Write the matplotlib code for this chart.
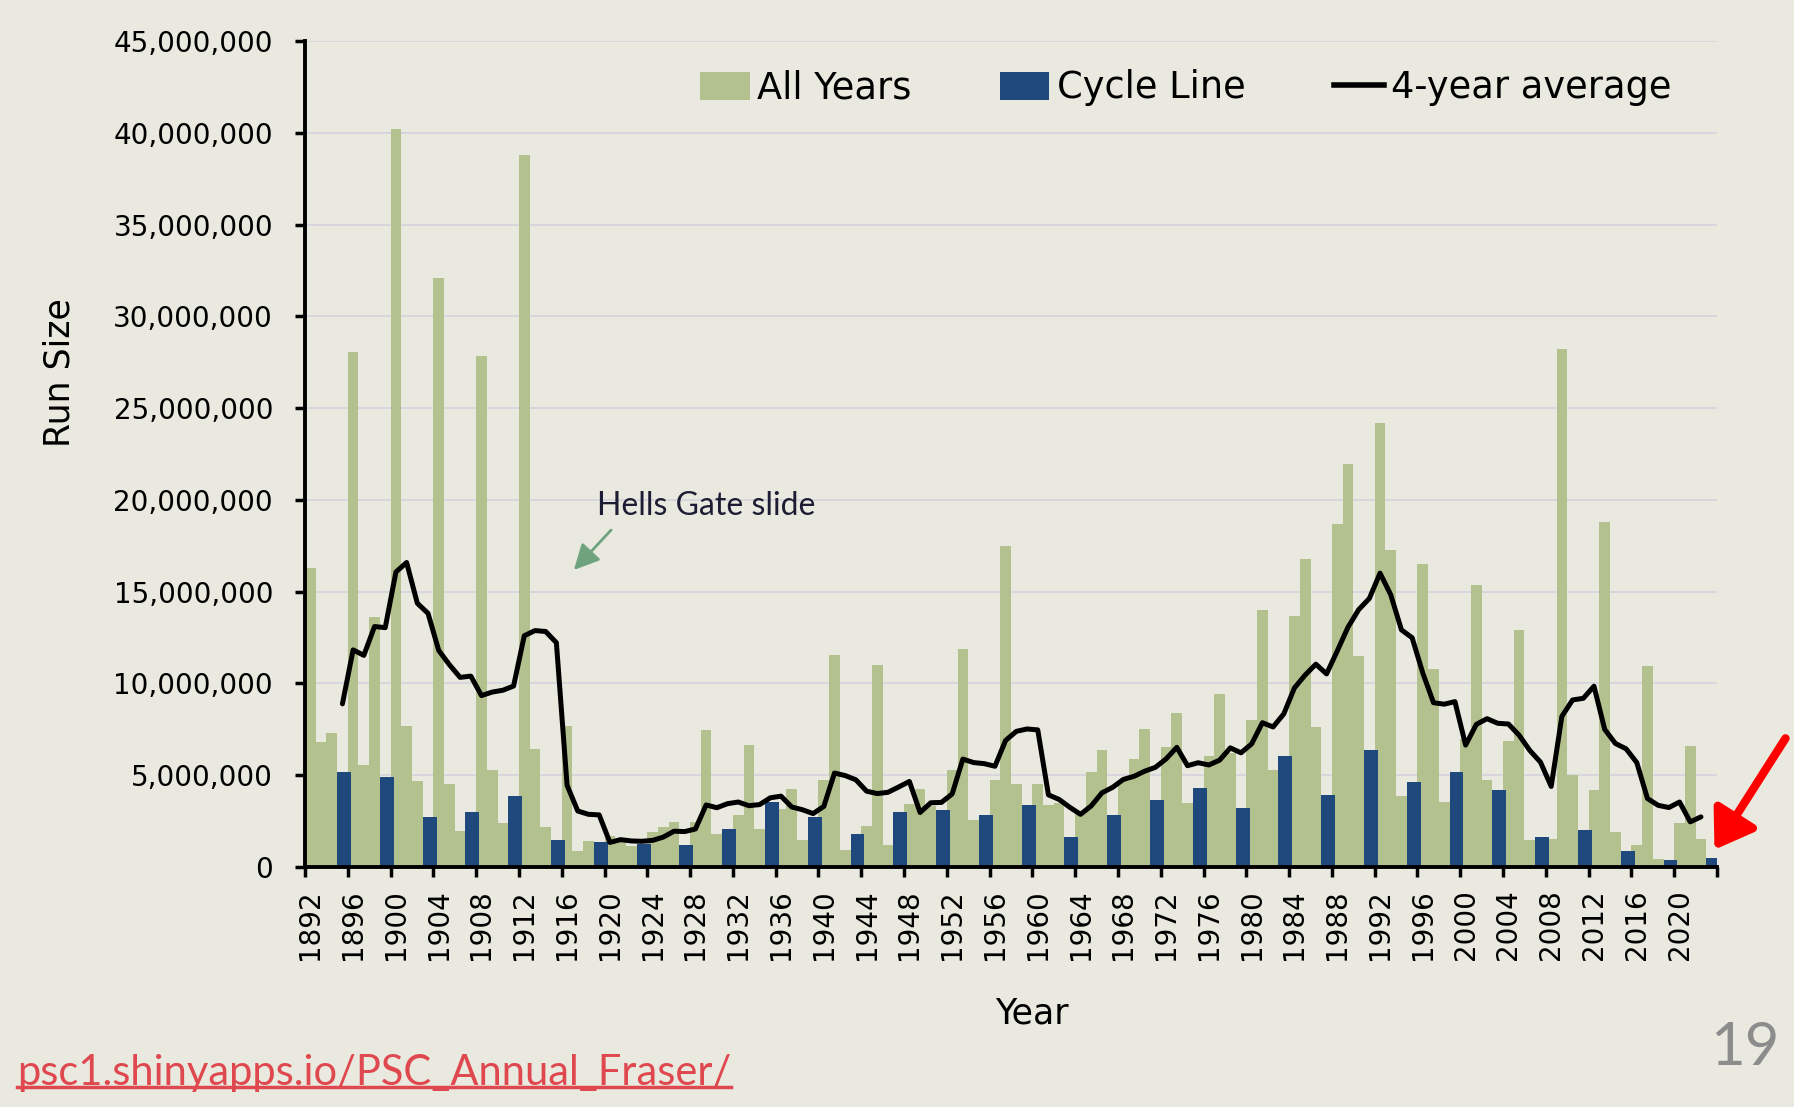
import numpy as np
import matplotlib
matplotlib.use("Agg")
import matplotlib.pyplot as plt
from matplotlib.patches import Patch
from matplotlib.lines import Line2D
from matplotlib.ticker import FuncFormatter

# ── Data (millions of fish) ───────────────────────────────────────────────
years = list(range(1892, 2024))
all_years_m = [
    16.3, 6.8, 7.3, 5.16, 28.07, 5.57, 13.6, 4.9, 40.2, 7.66,      # 1892-1901
    4.7, 2.72, 32.1, 4.54, 1.96, 2.99, 27.85, 5.3, 2.39, 3.89,     # 1902-1911
    38.8, 6.44, 2.17, 1.47, 7.7, 0.86, 1.43, 1.36, 1.7, 1.45,      # 1912-1921
    1.15, 1.28, 1.9, 2.18, 2.45, 1.18, 2.45, 7.45, 1.82, 2.09,     # 1922-1931
    2.81, 6.62, 2.09, 3.55, 3.18, 4.27, 1.47, 2.73, 4.73, 11.55,   # 1932-1941
    0.91, 1.82, 2.25, 11.02, 1.18, 3.0, 3.44, 4.24, 3.3, 3.09,     # 1942-1951
    5.27, 11.86, 2.55, 2.82, 4.73, 17.5, 4.5, 3.36, 4.5, 3.36,     # 1952-1961
    3.5, 1.62, 3.0, 5.18, 6.36, 2.82, 4.7, 5.86, 7.5, 3.64,        # 1962-1971
    6.55, 8.4, 3.5, 4.28, 6.07, 9.42, 6.2, 3.2, 8.02, 14.0,        # 1972-1981
    5.29, 6.03, 13.7, 16.8, 7.65, 3.92, 18.7, 21.95, 11.5, 6.38,   # 1982-1991
    24.2, 17.25, 3.85, 4.65, 16.5, 10.8, 3.54, 5.2, 7.0, 15.35,    # 1992-2001
    4.75, 4.2, 6.85, 12.9, 1.45, 1.64, 1.55, 28.2, 5.0, 2.0,       # 2002-2011
    4.2, 18.8, 1.9, 0.85, 1.2, 10.95, 0.45, 0.37, 2.4, 6.6,        # 2012-2021
    1.55, 0.5,                                                     # 2022-2023
]

cycle_years = list(range(1895, 2024, 4))
cycle_m = [
    5.16, 4.9, 2.72, 2.99, 3.89, 1.47, 1.36, 1.28, 1.18, 2.09, 3.55,
    2.73, 1.82, 3.0, 3.09, 2.82, 3.36, 1.62, 2.82, 3.64, 4.28, 3.2,
    6.03, 3.92, 6.38, 4.65, 5.2, 4.2, 1.64, 2.0, 0.85, 0.37, 0.5,
]

avg_years = list(range(1895, 2023))
avg4_m = [
    8.89, 11.83, 11.53, 13.10, 13.04, 16.07, 16.59, 14.37, 13.82, 11.80,   # 1895-1904
    11.02, 10.33, 10.40, 9.34, 9.53, 9.63, 9.86, 12.60, 12.88, 12.83,      # 1905-1914
    12.22, 4.45, 3.05, 2.87, 2.84, 1.34, 1.49, 1.42, 1.40, 1.45,           # 1915-1924
    1.63, 1.95, 1.93, 2.07, 3.38, 3.23, 3.45, 3.54, 3.34, 3.40,            # 1925-1934
    3.77, 3.86, 3.27, 3.12, 2.91, 3.30, 5.12, 4.98, 4.75, 4.13,            # 1935-1944
    4.00, 4.07, 4.36, 4.66, 2.97, 3.50, 3.52, 3.98, 5.88, 5.69,            # 1945-1954
    5.63, 5.49, 6.90, 7.39, 7.52, 7.47, 3.93, 3.68, 3.25, 2.87,            # 1955-1964
    3.33, 4.04, 4.34, 4.77, 4.94, 5.22, 5.43, 5.89, 6.52, 5.52,            # 1965-1974
    5.68, 5.56, 5.82, 6.49, 6.22, 6.71, 7.86, 7.63, 8.34, 9.76,            # 1975-1984
    10.46, 11.05, 10.52, 11.77, 13.06, 14.02, 14.63, 16.01, 14.83, 12.92,  # 1985-1994
    12.49, 10.56, 8.95, 8.87, 9.01, 6.64, 7.77, 8.08, 7.83, 7.79,          # 1995-2004
    7.18, 6.35, 5.71, 4.39, 8.21, 9.10, 9.19, 9.85, 7.50, 6.73,            # 2005-2014
    6.44, 5.69, 3.73, 3.36, 3.24, 3.54, 2.46, 2.73,                        # 2015-2022
]

label_years = list(range(1892, 2021, 4))

# ── Style ─────────────────────────────────────────────────────────────────
BG = "#E9E9DF"
GREEN = "#B3C18F"
BLUE = "#1F487C"
GRID = "#D7D6DC"

W, H = 1794, 1107
fig = plt.figure(figsize=(W / 100, H / 100), dpi=100, facecolor=BG)
ax = fig.add_axes([305 / W, 1 - 867 / H, (1717 - 305) / W, (867 - 41) / H])
ax.set_facecolor(BG)

ax.bar(years, np.array(all_years_m) * 1e6, width=1.0, color=GREEN, zorder=2)
ax.bar(np.array(cycle_years) - 0.5, np.array(cycle_m) * 1e6, width=1.3,
       align="edge", color=BLUE, zorder=3)
ax.plot(avg_years, np.array(avg4_m) * 1e6, color="black", lw=3.6,
        solid_joinstyle="round", solid_capstyle="round", zorder=4)

ax.set_xlim(1891.5, 2023.5)
ax.set_ylim(0, 45e6)
ax.set_yticks(np.arange(0, 45e6 + 1, 5e6))
ax.yaxis.set_major_formatter(FuncFormatter(lambda v, p: f"{int(v):,}"))
ax.yaxis.grid(True, color=GRID, lw=1.4)
ax.set_axisbelow(True)

ax.set_xticks(np.arange(1891.5, 2024, 4))
ax.set_xticklabels([])
ax.set_xticks(label_years, minor=True)
ax.set_xticklabels([str(y) for y in label_years], minor=True, rotation=90)

for s in ("top", "right"):
    ax.spines[s].set_visible(False)
for s in ("left", "bottom"):
    ax.spines[s].set_linewidth(2.8)
    ax.spines[s].set_zorder(5)

ax.tick_params(axis="y", which="major", length=7, width=2.5, pad=16,
               labelsize=20, colors="black")
ax.tick_params(axis="x", which="major", length=7, width=2.5)
ax.tick_params(axis="x", which="minor", length=0, pad=16, labelsize=20)

fig.text(60 / W, 1 - 373 / H, "Run Size", rotation=90, ha="center",
         va="center", fontsize=25)
fig.text(1032 / W, 1 - 1014 / H, "Year", ha="center", va="center", fontsize=25)

handles = [Patch(facecolor=GREEN), Patch(facecolor=BLUE),
           Line2D([0], [0], color="black", lw=4)]
ax.legend(handles, ["All Years", "Cycle Line", "4-year average"], ncol=3,
          loc="center left", bbox_to_anchor=(700 / W, 1 - 88 / H),
          bbox_transform=fig.transFigure, frameon=False, fontsize=26.5,
          handlelength=1.35, handleheight=0.8, handletextpad=0.2,
          columnspacing=2.4, borderpad=0, borderaxespad=0)

# ── Annotations ───────────────────────────────────────────────────────────
fig.text(597 / W, 1 - 506 / H, "Hells Gate slide", ha="left", va="center",
         fontsize=23, family="Lato", color="#1C1C34")
ax.annotate("", xy=(572, H - 572), xycoords="figure pixels",
            xytext=(613, H - 528), textcoords="figure pixels",
            arrowprops=dict(arrowstyle="-|>,head_length=0.7,head_width=0.35",
                            color="#6FA37E", lw=2, mutation_scale=22))
ax.annotate("", xy=(1713, H - 852), xycoords="figure pixels",
            xytext=(1787, H - 736), textcoords="figure pixels",
            arrowprops=dict(arrowstyle="-|>,head_length=0.75,head_width=0.5",
                            color="#FF0000", lw=6, mutation_scale=30),
            annotation_clip=False)

url = fig.text(17 / W, 1 - 1073 / H, "psc1.shinyapps.io/PSC_Annual_Fraser/",
               ha="left", va="center", fontsize=30, family="Lato",
               color="#E0484F")
fig.text(1745 / W, 1 - 1048 / H, "19", ha="center", va="center",
         fontsize=43, family="Lato", color="#8C8C8C")

fig.canvas.draw()
bb = url.get_window_extent()
y_ul = bb.y0 + 5
fig.add_artist(Line2D([bb.x0 / W, bb.x1 / W], [y_ul / H, y_ul / H],
                      transform=fig.transFigure, color="#E0484F", lw=2.5))

fig.savefig("out.png", dpi=100, facecolor=BG)
